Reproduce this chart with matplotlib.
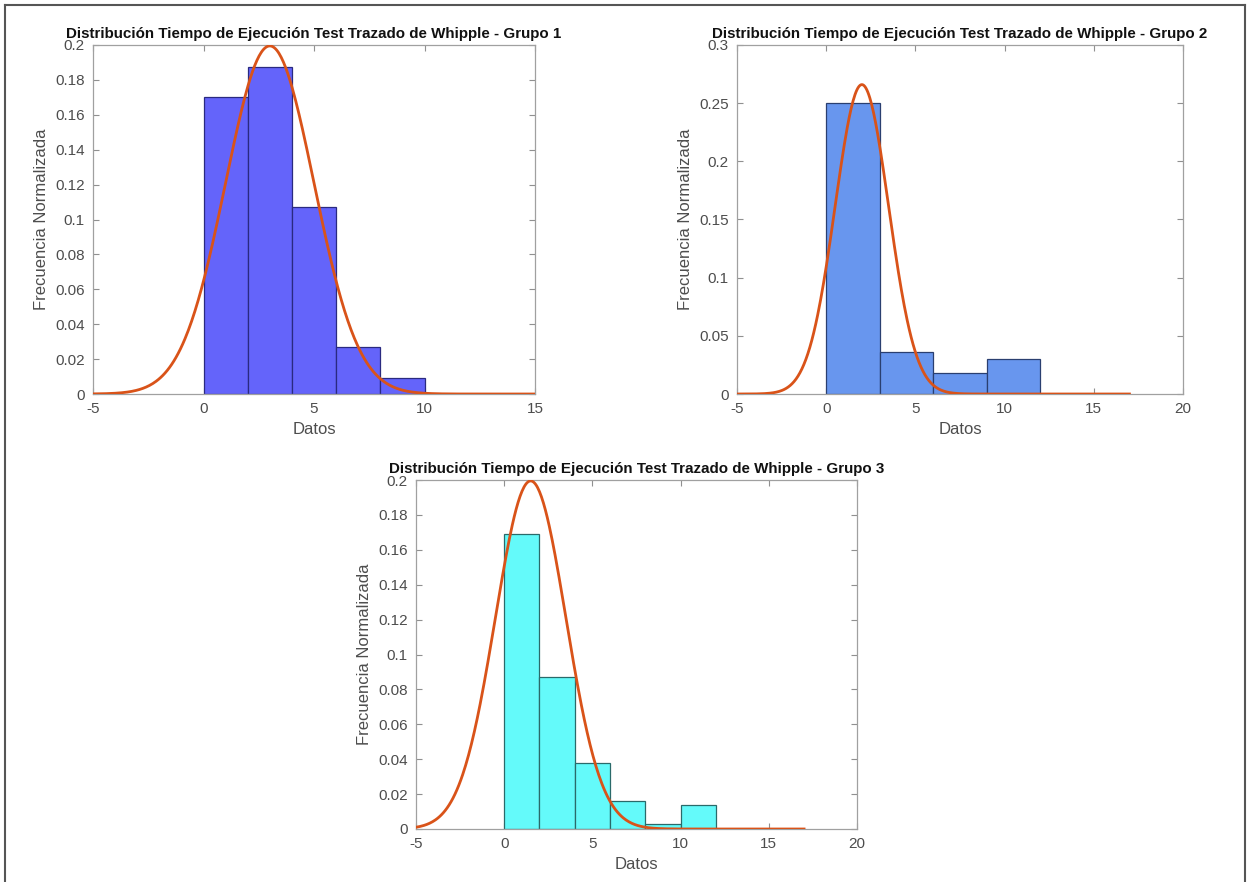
import numpy as np
import matplotlib
matplotlib.use("Agg")
import matplotlib.pyplot as plt
from matplotlib.lines import Line2D

plt.rcParams['font.family'] = ['Liberation Sans', 'DejaVu Sans']

title_base = "Distribución Tiempo de Ejecución Test Trazado de Whipple - Grupo "
xlabel = "Datos"
ylabel = "Frecuencia Normalizada"

# Group 1
g1_edges = [0, 2, 4, 6, 8, 10]
g1_heights = [0.170, 0.1875, 0.107, 0.027, 0.009]
g1_mu, g1_sigma = 3.0, 2.0
g1_curve_range = (-5, 15)
g1_xlim = (-5, 15)
g1_ylim = (0, 0.2)
g1_yticks = [0, 0.02, 0.04, 0.06, 0.08, 0.1, 0.12, 0.14, 0.16, 0.18, 0.2]
g1_xticks = [-5, 0, 5, 10, 15]

# Group 2
g2_edges = [0, 3, 6, 9, 12]
g2_heights = [0.250, 0.036, 0.018, 0.030]
g2_mu, g2_sigma = 2.0, 1.5
g2_curve_range = (-5, 17)
g2_xlim = (-5, 20)
g2_ylim = (0, 0.3)
g2_yticks = [0, 0.05, 0.1, 0.15, 0.2, 0.25, 0.3]
g2_xticks = [-5, 0, 5, 10, 15, 20]

# Group 3
g3_edges = [0, 2, 4, 6, 8, 10, 12]
g3_heights = [0.169, 0.087, 0.038, 0.016, 0.003, 0.014]
g3_mu, g3_sigma = 1.5, 2.0
g3_curve_range = (-5, 17)
g3_xlim = (-5, 20)
g3_ylim = (0, 0.2)
g3_yticks = [0, 0.02, 0.04, 0.06, 0.08, 0.1, 0.12, 0.14, 0.16, 0.18, 0.2]
g3_xticks = [-5, 0, 5, 10, 15, 20]

fig = plt.figure(figsize=(12.5, 8.82), dpi=100)
W, H = 1250, 882

def rect(l, r, t, b):
    return [l / W, 1 - b / H, (r - l) / W, (b - t) / H]

def fmt(v):
    return '%g' % v

def draw(ax, edges, heights, mu, sigma, crange, xlim, ylim, yticks, xticks, face, edge, n):
    edges = np.asarray(edges, float)
    widths = np.diff(edges)
    ax.bar(edges[:-1], heights, width=widths, align='edge', color=face,
           edgecolor=edge, linewidth=0.9, zorder=2)
    xs = np.linspace(crange[0], crange[1], 400)
    ys = np.exp(-0.5 * ((xs - mu) / sigma) ** 2) / (sigma * np.sqrt(2 * np.pi))
    ax.plot(xs, ys, color='#D95319', linewidth=2.0, zorder=3)
    ax.set_xlim(*xlim)
    ax.set_ylim(*ylim)
    ax.set_xticks(xticks)
    ax.set_yticks(yticks)
    ax.set_xticklabels([fmt(v) for v in xticks])
    ax.set_yticklabels([fmt(v) for v in yticks])
    ax.tick_params(direction='in', top=True, right=True, length=4, width=0.8,
                   color='#909090', labelcolor='#4d4d4d', labelsize=11, pad=6)
    for s in ax.spines.values():
        s.set_color('#a0a0a0')
        s.set_linewidth(0.9)
    ax.set_title(title_base + str(n), fontsize=10.9, fontweight='bold', color='#111111', pad=5)
    ax.set_xlabel(xlabel, fontsize=12, color='#4d4d4d', labelpad=4)
    ax.set_ylabel(ylabel, fontsize=12, color='#4d4d4d', labelpad=4)

ax1 = fig.add_axes(rect(93, 535, 45, 394))
draw(ax1, g1_edges, g1_heights, g1_mu, g1_sigma, g1_curve_range, g1_xlim, g1_ylim,
     g1_yticks, g1_xticks, '#6464FA', '#2a2a80', 1)

ax2 = fig.add_axes(rect(737, 1183, 45, 394))
draw(ax2, g2_edges, g2_heights, g2_mu, g2_sigma, g2_curve_range, g2_xlim, g2_ylim,
     g2_yticks, g2_xticks, '#6896EE', '#2a3f70', 2)

ax3 = fig.add_axes(rect(416, 857, 480, 829))
draw(ax3, g3_edges, g3_heights, g3_mu, g3_sigma, g3_curve_range, g3_xlim, g3_ylim,
     g3_yticks, g3_xticks, '#64FAFA', '#2a6a6a', 3)

# outer frame
for xs_, ys_ in [((5, 1245), (5, 5)), ((5, 5), (5, 882)), ((1245, 1245), (5, 882))]:
    fig.add_artist(Line2D([x / W for x in xs_], [1 - y / H for y in ys_],
                          color='#555555', linewidth=1.5))

fig.savefig('out.png', dpi=100)
